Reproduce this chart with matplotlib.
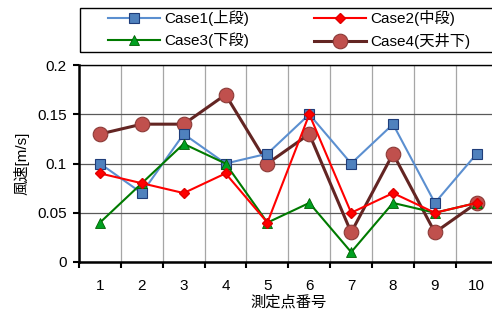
import matplotlib
matplotlib.use("Agg")
import matplotlib.pyplot as plt
from matplotlib.patches import Rectangle
import numpy as np

plt.rcParams['font.family'] = ['Liberation Sans', 'Noto Sans CJK JP']

# data
points = [1, 2, 3, 4, 5, 6, 7, 8, 9, 10]
case1 = [0.10, 0.07, 0.13, 0.10, 0.11, 0.15, 0.10, 0.14, 0.06, 0.11]
case2 = [0.09, 0.08, 0.07, 0.09, 0.04, 0.15, 0.05, 0.07, 0.05, 0.06]
case3 = [0.04, 0.08, 0.12, 0.10, 0.04, 0.06, 0.01, 0.06, 0.05, 0.06]
case4 = [0.13, 0.14, 0.14, 0.17, 0.10, 0.13, 0.03, 0.11, 0.03, 0.06]
names = ["Case1(上段)", "Case2(中段)", "Case3(下段)", "Case4(天井下)"]

fig = plt.figure(figsize=(4.92, 3.13), dpi=100)
ax = fig.add_axes([0.1606, 0.163, 0.851, 0.629])

x = np.array(points)
l1, = ax.plot(x, case1, color="#5B8FD0", lw=1.5, marker="s", ms=6.5,
              mfc="#4F81BD", mec="#1F3D7A", mew=0.8, label=names[0], zorder=3)
l2, = ax.plot(x, case2, color="#FF0000", lw=1.5, marker="D", ms=5,
              mfc="#FF0000", mec="#E00000", label=names[1], zorder=4)
l3, = ax.plot(x, case3, color="#007A00", lw=1.5, marker="^", ms=7,
              mfc="#00A020", mec="#006000", mew=0.6, label=names[2], zorder=3)
l4, = ax.plot(x, case4, color="#632523", lw=2.2, marker="o", ms=10.5,
              mfc="#C0504D", mec="#8B3A37", mew=0.8, label=names[3], zorder=2)

ax.set_xlim(0.5, 10.5)
ax.set_ylim(0, 0.2)
ax.set_yticks([0, 0.05, 0.1, 0.15, 0.2])
ax.set_yticklabels(["0", "0.05", "0.1", "0.15", "0.2"])
ax.set_xticks(x)
ax.set_xticks(np.arange(0.5, 11, 1), minor=True)
ax.tick_params(axis="x", which="major", length=0, pad=12, labelsize=11)
ax.tick_params(axis="x", which="minor", length=4, width=1.5, direction="out")
ax.tick_params(axis="y", length=4, width=1.5, direction="out", labelsize=11, pad=5)

ax.grid(axis="y", color="#595959", lw=0.9)
ax.grid(axis="x", which="minor", color="#A6A6A6", lw=0.9)
ax.set_axisbelow(True)

for s in ["left", "bottom"]:
    ax.spines[s].set_linewidth(1.8)
ax.spines["top"].set_linewidth(1.0)
ax.spines["right"].set_visible(False)

ax.set_ylabel("風速[m/s]", fontsize=11, labelpad=5)
ax.set_xlabel("測定点番号", fontsize=11, labelpad=2)

# legend box (runs off the right edge like the original)
fig.patches.append(Rectangle((80 / 492, 1 - 52 / 313), 420 / 492, 44 / 313,
                             transform=fig.transFigure, fill=False,
                             edgecolor="#000000", lw=1.0))
leg = fig.legend([l1, l3, l2, l4], [names[0], names[2], names[1], names[3]],
                 loc="upper left", bbox_to_anchor=(108 / 492, 1 - 10 / 313), ncol=2,
                 fontsize=11, frameon=False, borderpad=0, borderaxespad=0,
                 handlelength=3.4, columnspacing=4.2,
                 labelspacing=0.45, handletextpad=0.3)

fig.savefig("out.png", dpi=100)
